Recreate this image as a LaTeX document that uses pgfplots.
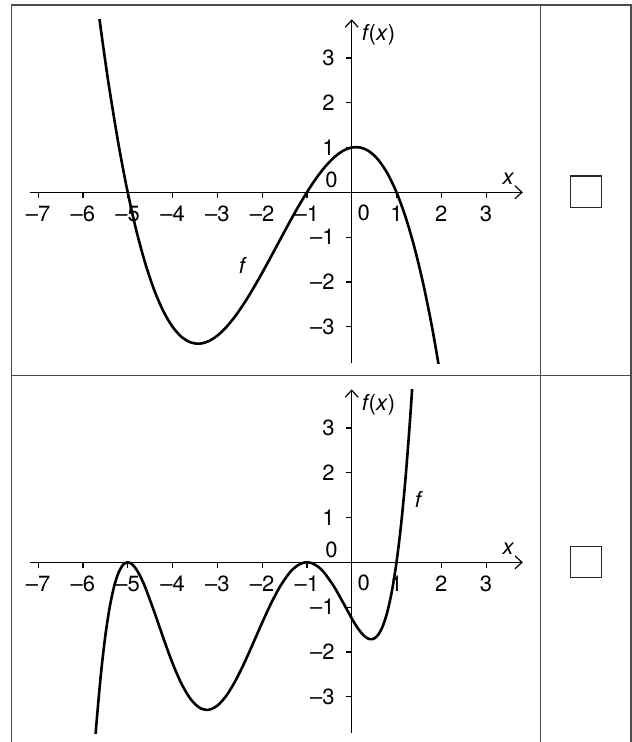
\documentclass[border=0pt]{standalone}
\usepackage{pgfplots}
\pgfplotsset{compat=1.18}
\usepackage{pgfplotstable}
\usepackage{fontspec}
\setmainfont{TeX Gyre Heros}
\usetikzlibrary{arrows.meta}
\definecolor{frame}{gray}{0.3}

\pgfplotstableread{
x y
-5.7 4.409
-5.6 3.643
-5.5 2.925
-5.4 2.253
-5.2 1.042
-5.0 0
-4.8 -0.882
-4.6 -1.613
-4.4 -2.203
-4.2 -2.662
-4.0 -3.0
-3.8 -3.226
-3.6 -3.349
-3.4 -3.379
-3.2 -3.326
-3.0 -3.2
-2.8 -3.010
-2.6 -2.765
-2.4 -2.475
-2.2 -2.150
-2.0 -1.8
-1.8 -1.434
-1.6 -1.061
-1.4 -0.691
-1.2 -0.334
-1.0 0
-0.8 0.302
-0.6 0.563
-0.4 0.773
-0.2 0.922
0.0 1.0
0.2 0.998
0.4 0.907
0.6 0.717
0.8 0.418
1.0 0
1.2 -0.546
1.4 -1.229
1.6 -2.059
1.8 -3.046
2.0 -4.2
}\topdata

\pgfplotstableread{
x y
-5.75 -4.283
-5.7 -3.626
-5.6 -2.514
-5.5 -1.645
-5.4 -0.991
-5.3 -0.524
-5.2 -0.219
-5.1 -0.051
-5.0 0
-4.9 -0.045
-4.8 -0.168
-4.7 -0.351
-4.6 -0.581
-4.4 -1.124
-4.2 -1.704
-4.0 -2.25
-3.8 -2.710
-3.6 -3.047
-3.4 -3.244
-3.2 -3.293
-3.0 -3.2
-2.8 -2.980
-2.6 -2.654
-2.4 -2.252
-2.2 -1.806
-2.0 -1.35
-1.8 -0.918
-1.6 -0.541
-1.4 -0.249
-1.3 -0.142
-1.2 -0.064
-1.1 -0.016
-1.0 0
-0.9 -0.016
-0.8 -0.064
-0.7 -0.141
-0.6 -0.248
-0.4 -0.533
-0.2 -0.885
0.0 -1.25
0.1 -1.416
0.2 -1.557
0.3 -1.662
0.4 -1.715
0.5 -1.702
0.6 -1.606
0.7 -1.408
0.8 -1.090
0.9 -0.628
1.0 0
1.1 0.820
1.2 1.860
1.3 3.149
1.35 3.897
1.4 4.719
}\botdata

\tikzset{lbl/.style={font=\fontsize{11bp}{13bp}\selectfont, inner sep=0pt}}
\pgfplotsset{
  myaxis/.style={
    x=22.4bp, y=22.4bp,
    xmin=-7.18, xmax=3.82, ymin=-3.82, ymax=3.86,
    axis lines=middle, anchor=origin,
    xtick={-7,-6,-5,-4,-3,-2,-1,1,2,3},
    xticklabels={–7,–6,–5,–4,–3,–2,–1,1,2,3},
    ytick={-3,-2,-1,1,2,3},
    yticklabels={–3,–2,–1,1,2,3},
    tick align=outside, major tick length=3bp,
    every tick/.style={black, line width=0.6bp},
    axis line style={black, line width=0.6bp, -{Straight Barb[length=3.5bp,width=6.5bp,line width=0.6bp]}},
    tick label style={font=\fontsize{11bp}{13bp}\selectfont},
    xticklabel style={yshift=-0.5bp},
    yticklabel style={xshift=-2bp},
    clip=true,
  },
}

\begin{document}
\begin{tikzpicture}
\useasboundingbox (0,0) rectangle (316bp,-371bp);
\begin{scope}[x=0.5bp,y=-0.5bp]
\draw[frame, line width=0.6bp] (11.7,742) -- (11.7,5) -- (631,5) -- (631,742);
\draw[frame, line width=0.6bp] (540.7,5) -- (540.7,742);
\draw[frame, line width=0.6bp] (11.7,375.5) -- (631,375.5);
\draw[black!85, line width=0.6bp] (570.7,176) rectangle (601.7,207.3);
\draw[black!85, line width=0.6bp] (570.7,546.7) rectangle (601.7,577.3);
\end{scope}

\begin{axis}[myaxis, at={(175.85bp,-96.15bp)}]
\addplot[black, line width=1.3bp, smooth] table {\topdata};
\node[lbl, anchor=west] at (axis cs:0.22,3.51) {\textit{f}\kern-0.6bp(\textit{x})};
\node[lbl] at (axis cs:3.50,0.30) {\textit{x}};
\node[lbl] at (axis cs:-0.45,0.28) {0};
\node[lbl] at (axis cs:0.27,-0.46) {0};
\node[lbl] at (axis cs:-2.43,-1.63) {\textit{f}};
\end{axis}

\begin{axis}[myaxis, at={(175.85bp,-281.15bp)}]
\addplot[black, line width=1.3bp, smooth] table {\botdata};
\node[lbl, anchor=west] at (axis cs:0.22,3.51) {\textit{f}\kern-0.6bp(\textit{x})};
\node[lbl] at (axis cs:3.50,0.30) {\textit{x}};
\node[lbl] at (axis cs:-0.45,0.28) {0};
\node[lbl] at (axis cs:0.27,-0.46) {0};
\node[lbl] at (axis cs:1.50,1.41) {\textit{f}};
\end{axis}
\end{tikzpicture}
\end{document}
